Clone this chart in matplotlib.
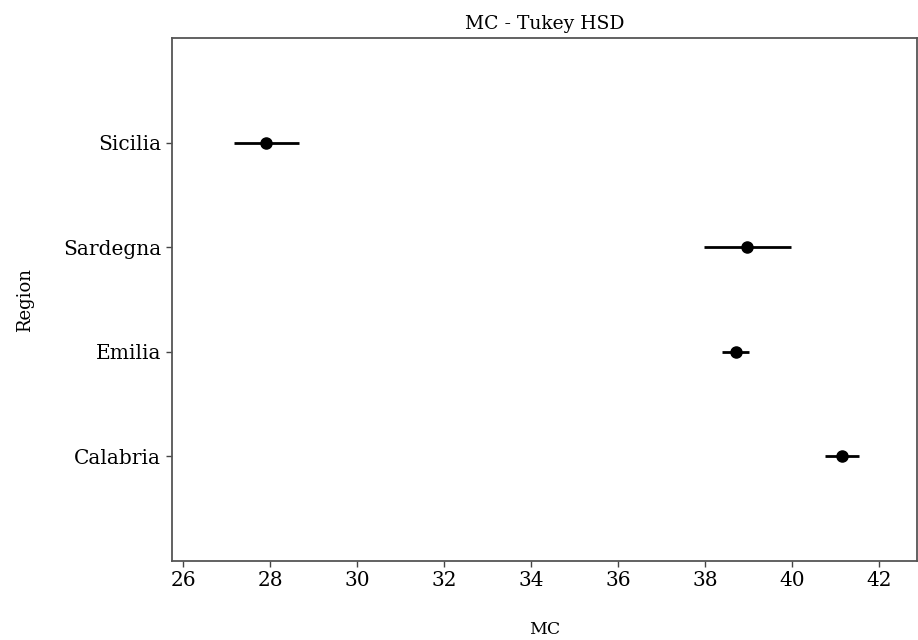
import matplotlib
matplotlib.use("Agg")
import matplotlib.pyplot as plt

regions = ["Calabria", "Emilia", "Sardegna", "Sicilia"]
means = [41.15, 38.70, 38.97, 27.91]
halfwidths = [0.39, 0.31, 1.00, 0.75]
xticks = [26, 28, 30, 32, 34, 36, 38, 40, 42]

plt.rcParams['font.family'] = ['DejaVu Serif']

fig = plt.figure(figsize=(9.18, 6.4), dpi=100)
ax = fig.add_axes([0.187, 0.124, 0.812, 0.816])

ypos = list(range(len(regions)))
ax.errorbar(means, ypos, xerr=halfwidths, fmt='o', color='black',
            ecolor='black', elinewidth=2.0, markersize=8, capsize=0)

ax.set_ylim(-1, len(regions))
ax.set_xlim(25.73, 42.87)
ax.set_yticks(ypos)
ax.set_yticklabels(regions)
ax.set_xticks(xticks)
ax.tick_params(axis='both', labelsize=14.5, length=4, width=1.0, color='#444444')

for s in ax.spines.values():
    s.set_color('#555555')
    s.set_linewidth(1.3)

ax.set_title("MC - Tukey HSD", fontsize=13.5, pad=7)
ax.set_xlabel("MC", fontsize=12.5, labelpad=22)
ax.set_ylabel("Region", fontsize=13, labelpad=21)

fig.savefig("out.png", dpi=100)
